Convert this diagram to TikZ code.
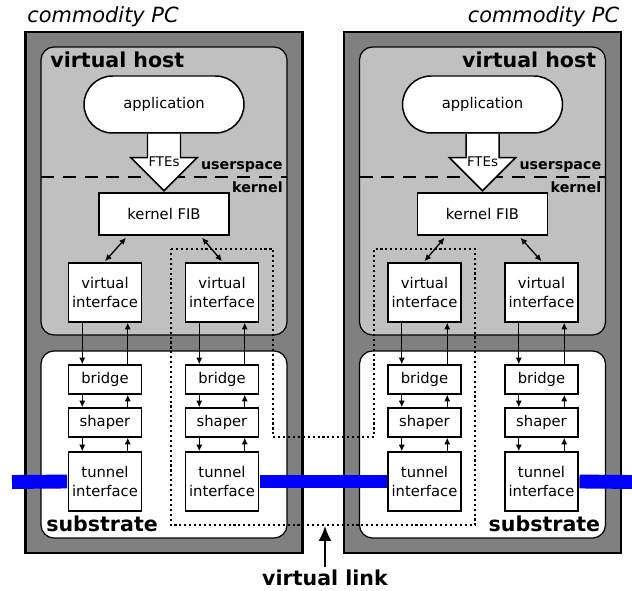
\documentclass[tikz,border=0pt]{standalone}
\usepackage{fontspec}
\setmainfont{DejaVu Sans}
\usetikzlibrary{arrows.meta,calc}
\definecolor{pcgris}{RGB}{128,128,128}
\definecolor{hostgris}{RGB}{192,192,192}
\definecolor{lienbleu}{RGB}{0,0,255}
\tikzset{
  pcbox/.style={draw=black,fill=pcgris,line width=1.6pt},
  zone/.style={draw=black,line width=0.7pt,rounded corners=0.26cm},
  box/.style={draw,fill=white,line width=0.85pt,minimum width=1.46cm,align=center,
    inner sep=1pt,font=\fontsize{8.4}{11.2}\selectfont},
  appbox/.style={box,minimum width=3.2cm,minimum height=1.14cm,rounded corners=0.57cm},
  biglabel/.style={font=\fontsize{11.7}{14}\selectfont\bfseries,inner sep=0pt},
  smalllabel/.style={font=\fontsize{8.1}{10}\selectfont\bfseries,inner sep=0pt},
  split/.style={line width=1.1pt,dash pattern=on 7.4pt off 5pt},
  fte/.style={draw,fill=white,line width=0.85pt},
  flow/.style={-{Latex[length=3.8pt,width=3.6pt]},line width=0.75pt},
  biflow/.style={{Latex[length=3.8pt,width=3.6pt]}-{Latex[length=3.8pt,width=3.6pt]},line width=0.75pt},
  tunnel/.style={lienbleu,line width=7.9pt},
  vlinkpath/.style={line width=1.2pt,dash pattern=on 1.2pt off 1.6pt},
}
\begin{document}
\begin{tikzpicture}[x=0.02cm,y=-0.02cm]
\useasboundingbox (0,0) rectangle (632,591);
\foreach \pc/\cx/\s/\sd in {L/164/1/west,R/482.5/-1/east}{
  \pgfmathsetmacro\xa{\cx-59*\s}
  \pgfmathsetmacro\xb{\cx+58*\s}
  \pgfmathsetmacro\oa{-38*\s}
  \pgfmathsetmacro\ob{38*\s}
  %% commodity PC
  \draw[pcbox] (\cx-138.5,32) rectangle (\cx+138.5,553);
  \node[anchor=base \sd,inner sep=0pt,font=\fontsize{11.9}{14}\selectfont\itshape]
    (\pc-title) at (\cx-137*\s,23) {commodity PC};
  %% virtual host
  \draw[zone,fill=hostgris] (\cx-123,47) rectangle (\cx+123,335);
  \node[biglabel,anchor=base \sd] (\pc-host) at (\cx-114*\s,68) {virtual host};
  \draw[split] (\cx-123,177) -- (\cx+123,177);
  \node[smalllabel,anchor=base east] (\pc-user) at (\cx+119,170) {userspace};
  \node[smalllabel,anchor=base east] (\pc-kern) at (\cx+119,193) {kernel};
  %% substrate
  \draw[zone,fill=white] (\cx-123,351) rectangle (\cx+123,538);
  \node[biglabel,anchor=base \sd] (\pc-sub) at (\cx-118*\s,531) {substrate};
  %% application -> kernel FIB
  \node[appbox] (\pc-app) at (\cx,104.5) {application};
  \draw[fte] ($(\pc-app.south)+(-16.5,0.5)$) -- ++(0,23.5) -- ++(-16.5,0)
    -- ++(33,33) -- ++(33,-33) -- ++(-16.5,0) -- ++(0,-23.5);
  \node[inner sep=0pt,font=\fontsize{7.6}{9}\selectfont] (\pc-fte) at (\cx,162) {FTEs};
  \node[box,minimum width=2.6cm,minimum height=0.84cm] (\pc-fib) at (\cx,214) {kernel FIB};
  %% two columns of interfaces
  \foreach \c/\x/\o in {A/\xa/\oa,B/\xb/\ob}{
    \node[box,minimum height=1.18cm] (\pc-vi\c) at (\x,292.5) {virtual\\interface};
    \node[box,minimum height=0.58cm] (\pc-br\c) at (\x,379.5) {bridge};
    \node[box,minimum height=0.58cm] (\pc-sh\c) at (\x,422.5) {shaper};
    \node[box,minimum height=1.18cm] (\pc-tu\c) at (\x,481.5) {tunnel\\interface};
    \draw[biflow] ($(\pc-fib.south)+(\o,2)$) -- ($(\pc-vi\c.north)+(0,-1)$);
    \foreach \a/\b in {vi/br,br/sh,sh/tu}{
      \draw[flow] ([xshift=0.29cm]\pc-\a\c.south west) -- ([xshift=0.29cm]\pc-\b\c.north west);
      \draw[flow] ([xshift=-0.29cm]\pc-\b\c.north east) -- ([xshift=-0.29cm]\pc-\a\c.south east);
    }
  }
}
%% tunnels
\coordinate (wanL) at (12,482);
\coordinate (wanR) at (632,482);
\draw[tunnel] (wanL) -- ([xshift=-0.4pt]L-tuA.west);
\draw[tunnel] ([xshift=0.4pt]L-tuB.east) -- ([xshift=-0.4pt]R-tuB.west);
\draw[tunnel] ([xshift=0.4pt]R-tuA.east) -- (wanR);
%% virtual link
\draw[vlinkpath] (171,249) -- (273,249) -- (273,437) -- (374,437) -- (374,249)
  -- (475,249) -- (475,525) -- (171,525) -- cycle;
\node[biglabel,anchor=base] (vlink) at (325,585) {virtual link};
\coordinate (linkTip) at (325,526);
\draw[-{Latex[length=8.5pt,width=7.4pt]},line width=1.1pt] ([yshift=1pt]vlink.north) -- (linkTip);
\end{tikzpicture}
\end{document}
